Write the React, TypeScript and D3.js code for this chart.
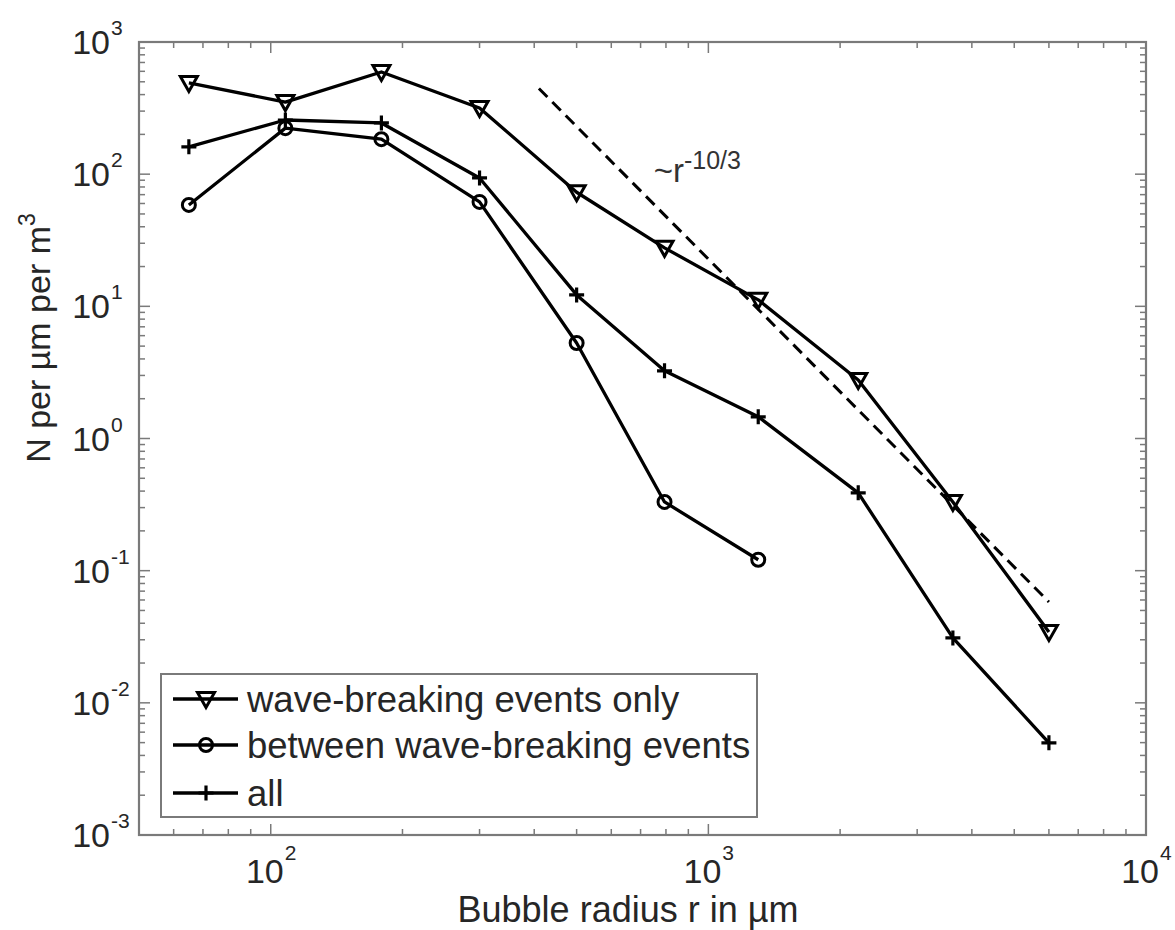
import React from "react";
import * as d3 from "d3";

// ---- data ----
const radii = [65, 108, 179, 300, 500, 794, 1300, 2200, 3620, 6000];
const waveOnly = [490, 351, 593, 317, 73, 27.7, 11.2, 2.77, 0.331, 0.0344];
const betweenWaves = [58.5, 223, 184, 61.7, 5.28, 0.331, 0.121];
const allEvents = [161, 257, 244, 93.6, 12.2, 3.25, 1.46, 0.388, 0.031, 0.00498];
const xTickExps = [2, 3, 4];
const yTickExps = [-3, -2, -1, 0, 1, 2, 3];
const legendLabels = ["wave-breaking events only", "between wave-breaking events", "all"];
const slopeRadii = [410, 6000];
const slopeEndValue = 0.058;
const slopeExponent = -10 / 3;
const slopeLabelAt = [750, 87];

const W = 1175;
const H = 930;
const L = 139, R = 1146, T = 42, B = 835;
const FONT = "'Liberation Sans', Arial, Helvetica, sans-serif";
const FRAME = "#7a7a7a";
const TXT = "#262626";

type Kind = "tri" | "circ" | "plus";

function Marker({ kind, x, y }: { kind: Kind; x: number; y: number }) {
  if (kind === "tri") {
    const w = 8.5, h = 6.5;
    return (
      <path
        d={`M${x - w},${y - h}L${x + w},${y - h}L${x},${y + h + 2}Z`}
        fill="none"
        stroke="#000"
        strokeWidth={3}
        strokeLinejoin="miter"
      />
    );
  }
  if (kind === "circ") {
    return <circle cx={x} cy={y} r={6.5} fill="none" stroke="#000" strokeWidth={3} />;
  }
  const s = 7.5;
  return (
    <path d={`M${x - s},${y}L${x + s},${y}M${x},${y - s}L${x},${y + s}`} stroke="#000" strokeWidth={3.2} />
  );
}

export default function App() {
  const x = d3.scaleLog().domain([50, 10000]).range([L, R]);
  const y = d3.scaleLog().domain([1e-3, 1e3]).range([B, T]);

  const series: { vals: number[]; kind: Kind }[] = [
    { vals: waveOnly, kind: "tri" },
    { vals: betweenWaves, kind: "circ" },
    { vals: allEvents, kind: "plus" },
  ];

  const line = d3
    .line<[number, number]>()
    .x((d) => x(d[0]))
    .y((d) => y(d[1]));

  // minor ticks
  const xMinor: number[] = [];
  for (let e = 1; e <= 3; e++) for (let m = 2; m <= 9; m++) {
    const v = m * Math.pow(10, e);
    if (v >= 50 && v <= 10000) xMinor.push(v);
  }
  const yMinor: number[] = [];
  for (let e = -3; e <= 2; e++) for (let m = 2; m <= 9; m++) yMinor.push(m * Math.pow(10, e));

  const MAJ = 11, MIN = 6;

  const slopeC = slopeEndValue / Math.pow(slopeRadii[1], slopeExponent);
  const slopePts: [number, number][] = slopeRadii.map((r) => [r, slopeC * Math.pow(r, slopeExponent)]);

  const legX = 161, legY = 674, legW = 596, legH = 143;
  const legRows = [699, 745, 793];

  return (
    <svg
      width={W}
      height={H}
      style={{ position: "absolute", left: 0, top: 0, background: "#fff" }}
      fontFamily={FONT}
    >
      <rect x={0} y={0} width={W} height={H} fill="#fff" />

      {/* ticks */}
      <g stroke={FRAME} strokeWidth={1.5}>
        {xTickExps.map((e) => {
          const px = x(Math.pow(10, e));
          return (
            <g key={"xt" + e}>
              <line x1={px} x2={px} y1={B} y2={B - MAJ} />
              <line x1={px} x2={px} y1={T} y2={T + MAJ} />
            </g>
          );
        })}
        {xMinor.map((v) => {
          const px = x(v);
          return (
            <g key={"xm" + v}>
              <line x1={px} x2={px} y1={B} y2={B - MIN} />
              <line x1={px} x2={px} y1={T} y2={T + MIN} />
            </g>
          );
        })}
        {yTickExps.map((e) => {
          const py = y(Math.pow(10, e));
          return (
            <g key={"yt" + e}>
              <line x1={L} x2={L + MAJ} y1={py} y2={py} />
              <line x1={R} x2={R - MAJ} y1={py} y2={py} />
            </g>
          );
        })}
        {yMinor.map((v) => {
          const py = y(v);
          return (
            <g key={"ym" + v}>
              <line x1={L} x2={L + MIN} y1={py} y2={py} />
              <line x1={R} x2={R - MIN} y1={py} y2={py} />
            </g>
          );
        })}
      </g>

      {/* frame */}
      <rect x={L} y={T} width={R - L} height={B - T} fill="none" stroke={FRAME} strokeWidth={2.2} />

      {/* tick labels */}
      <g fill={TXT}>
        {yTickExps.map((e) => {
          const py = y(Math.pow(10, e));
          return (
            <g key={"yl" + e}>
              <text x={110} y={py + 12} fontSize={34} textAnchor="end">10</text>
              <text x={111} y={py - 7} fontSize={21}>{String(e)}</text>
            </g>
          );
        })}
        {xTickExps.map((e) => {
          const px = x(Math.pow(10, e));
          return (
            <g key={"xl" + e}>
              <text x={px + 13} y={883} fontSize={34} textAnchor="end">10</text>
              <text x={px + 14} y={860} fontSize={21}>{String(e)}</text>
            </g>
          );
        })}
      </g>

      {/* axis titles */}
      <text x={628} y={922} fontSize={36} textAnchor="middle" fill={TXT}>
        Bubble radius r in µm
      </text>
      <g transform={`translate(50, 338) rotate(-90)`}>
        <text x={0} y={0} fontSize={34} textAnchor="middle" fill={TXT}>
          N per µm per m
          <tspan fontSize={23} dy={-15}>3</tspan>
        </text>
      </g>

      {/* slope reference line */}
      <path d={line(slopePts) || ""} fill="none" stroke="#000" strokeWidth={3} strokeDasharray="12 7" />
      <text x={x(slopeLabelAt[0])} y={y(slopeLabelAt[1])} fontSize={33} fill="#333">
        ~r
        <tspan fontSize={25} dy={-13}>-10/3</tspan>
      </text>

      {/* series */}
      {series.map((s, i) => {
        const pts: [number, number][] = s.vals.map((v, j) => [radii[j], v]);
        return (
          <g key={"s" + i}>
            <path d={line(pts) || ""} fill="none" stroke="#000" strokeWidth={3.3} strokeLinejoin="round" />
            {pts.map((p, j) => (
              <Marker key={j} kind={s.kind} x={x(p[0])} y={y(p[1])} />
            ))}
          </g>
        );
      })}

      {/* legend */}
      <rect x={legX} y={legY} width={legW} height={legH} fill="#fff" stroke={FRAME} strokeWidth={2} />
      {series.map((s, i) => (
        <g key={"lg" + i}>
          <line x1={173} x2={238} y1={legRows[i]} y2={legRows[i]} stroke="#000" strokeWidth={3.3} />
          <Marker kind={s.kind} x={206} y={legRows[i]} />
          <text x={247} y={legRows[i] + 13} fontSize={36.5} fill={TXT}>
            {legendLabels[i]}
          </text>
        </g>
      ))}
    </svg>
  );
}
